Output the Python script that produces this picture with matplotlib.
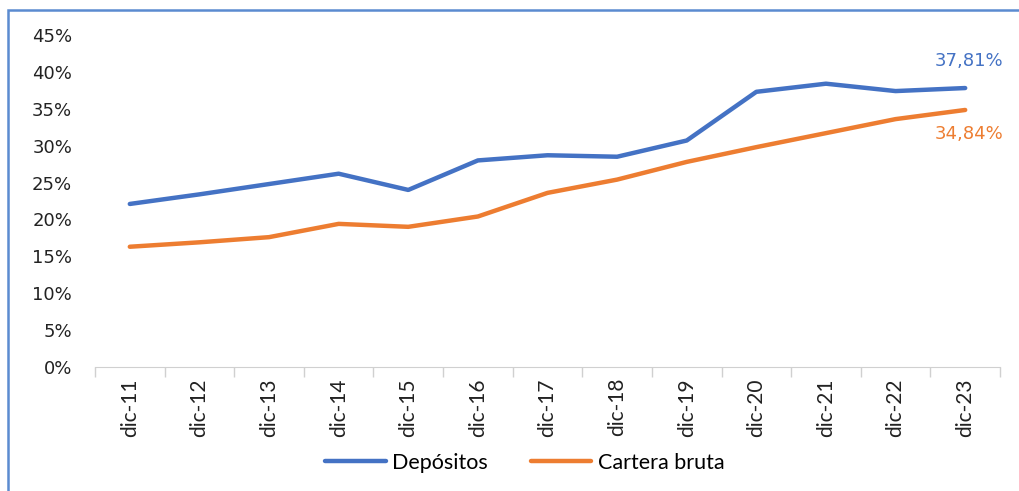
import numpy as np
import matplotlib.pyplot as plt
from matplotlib.patches import Rectangle
from matplotlib.ticker import FuncFormatter, MultipleLocator

fechas = ['dic-11', 'dic-12', 'dic-13', 'dic-14', 'dic-15', 'dic-16', 'dic-17',
          'dic-18', 'dic-19', 'dic-20', 'dic-21', 'dic-22', 'dic-23']
depositos = [22.1, 23.4, 24.8, 26.2, 24.0, 28.0, 28.7, 28.5, 30.7, 37.3, 38.4, 37.4, 37.81]
cartera = [16.3, 16.9, 17.6, 19.4, 19.0, 20.4, 23.6, 25.4, 27.8, 29.8, 31.7, 33.6, 34.84]

azul = '#4472C4'
naranja = '#ED7D31'
plt.rcParams['font.family'] = ['DejaVu Sans']

fig = plt.figure(figsize=(10.19, 4.91), dpi=100)
ax = fig.add_axes([95/1019, 1-367/491, 905/1019, (367-35)/491])

x = np.arange(len(fechas))
ax.plot(x, depositos, color=azul, lw=3.2, solid_capstyle='round', label='Depósitos')
ax.plot(x, cartera, color=naranja, lw=3.2, solid_capstyle='round', label='Cartera bruta')

ax.set_xlim(-0.5, len(fechas)-0.5)
ax.set_ylim(0, 45)
ax.yaxis.set_major_locator(MultipleLocator(5))
ax.yaxis.set_major_formatter(FuncFormatter(lambda v, p: '%d%%' % v))
ax.tick_params(axis='y', length=0, labelsize=13, pad=16.5, labelcolor='#222222')
for t in ax.get_yticklabels():
    t.set_family('DejaVu Sans')

ax.set_xticks(x)
ax.set_xticklabels(fechas, rotation=90, fontsize=15, family=['Lato'], color='#222222')
ax.set_xticks(np.arange(-0.5, len(fechas), 1), minor=True)
ax.tick_params(axis='x', which='major', length=0, pad=8)
ax.tick_params(axis='x', which='minor', length=7, color='#d0d0d0', width=1)

for s in ['top', 'right', 'left']:
    ax.spines[s].set_visible(False)
ax.spines['bottom'].set_color('#d0d0d0')

ax.annotate('37,81%', (x[-1], depositos[-1]), xytext=(38, 27), textcoords='offset pixels',
            ha='right', va='center', color=azul, fontsize=13, family='DejaVu Sans')
ax.annotate('34,84%', (x[-1], cartera[-1]), xytext=(38, -24), textcoords='offset pixels',
            ha='right', va='center', color=naranja, fontsize=13, family='DejaVu Sans')

leg = fig.legend(loc='center', bbox_to_anchor=(0.515, 1-463/491), ncol=2, frameon=False,
                 handlelength=2.8, handletextpad=0.3, columnspacing=2.0,
                 prop={'family': 'Lato', 'size': 15.5})

fig.patches.append(Rectangle((8/1019, -0.1), 1.2, 1-10/491+0.1, transform=fig.transFigure,
                             fill=False, edgecolor='#5B8BD0', lw=1.8))

fig.savefig('out.png', dpi=100)
